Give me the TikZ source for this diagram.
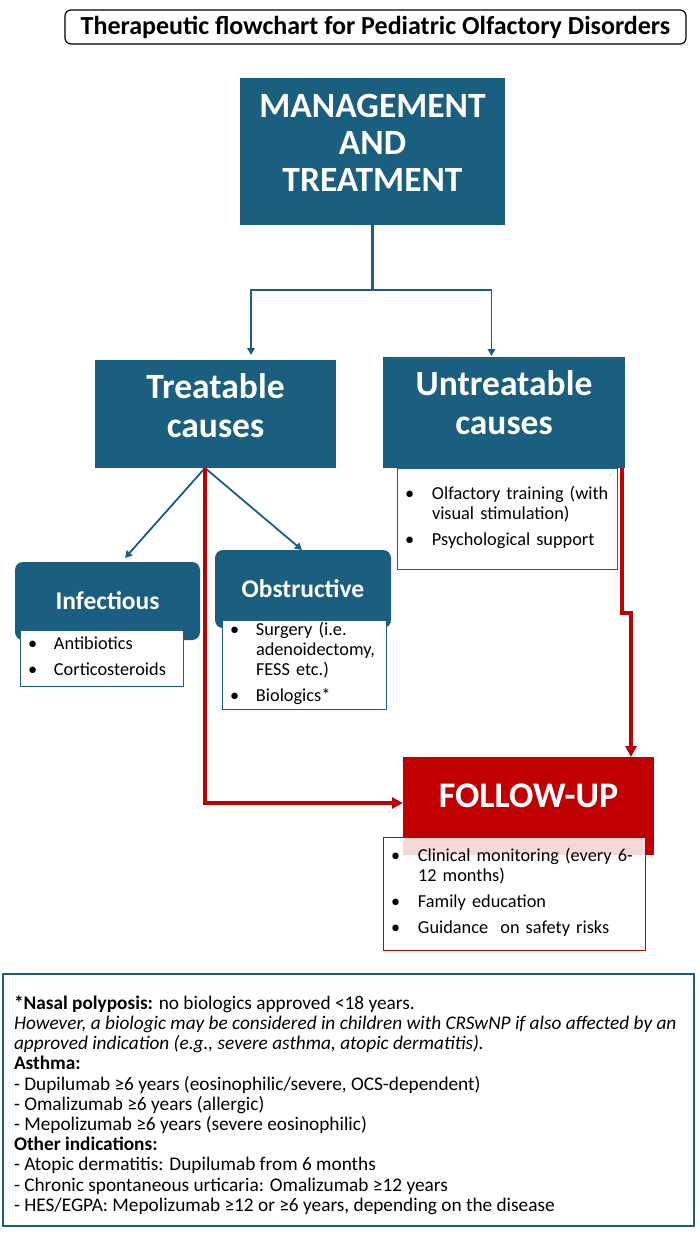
\documentclass[tikz,border=0pt]{standalone}
\usepackage{fontspec}
\setmainfont{Carlito}
\usetikzlibrary{arrows.meta,positioning,calc}
\definecolor{deepblue}{RGB}{26,94,128}
\definecolor{deepred}{RGB}{192,0,0}
\newcommand{\fsz}[2]{\fontsize{#1}{#2}\selectfont}
% move a block up or down without changing its box
\newcommand{\shifted}[2]{\raisebox{#1}[\height][\depth]{#2}}
\newcommand{\lifted}[2]{\shifted{#1}{\begin{tabular}{@{}c@{}}#2\end{tabular}}}

\begin{document}
\begin{tikzpicture}[x=1pt,y=-1pt,
  every node/.style={inner sep=0pt,outer sep=0pt},
  titlebox/.style={draw=black,line width=1.2pt,rounded corners=6pt,fill=white,
    minimum width=621pt,minimum height=34pt,font=\fsz{26}{30}\bfseries},
  headbox/.style={fill=deepblue,text=white,font=\fsz{35.5}{37}\bfseries},
  causebox/.style={fill=deepblue,text=white,font=\fsz{35.5}{39}\bfseries},
  subbox/.style={fill=deepblue,text=white,rounded corners=8pt,font=\fsz{25.5}{28}\bfseries},
  listbox/.style={draw=deepblue,line width=0.9pt,fill=white,inner xsep=8pt,
    align=left,anchor=north west,font=\fsz{18.3}{20}},
  fupbox/.style={fill=deepred,text=white,font=\fsz{36}{40}\bfseries},
  fuplist/.style={listbox,draw=deepred,fill opacity=0.85,text opacity=1},
  notebox/.style={draw=deepblue,line width=1.1pt,fill=white,anchor=north west,
    font=\fsz{19.3}{20.2}},
  bline/.style={deepblue,line width=1.8pt},
  barrow/.style={-{Triangle[length=7pt,width=7.5pt]},bline},
  rarrow/.style={-{Triangle[length=11pt,width=11pt]},deepred,line width=3.2pt},
]
\useasboundingbox (0,0) rectangle (700,1235);
% ---- title and top box ----
\node[titlebox] (title) at (375.5,27) {Therapeutic flowchart for Pediatric Olfactory Disorders};
\node[headbox,minimum width=265pt,minimum height=147pt] (mgmt) at (372.5,151.5)
  {\lifted{4pt}{MANAGEMENT\\AND\\TREATMENT}};
% ---- causes ----
\node[causebox,minimum width=241pt,minimum height=108pt] (treat) at (215.5,414)
  {\lifted{4pt}{Treatable\\causes}};
\node[causebox,minimum width=242pt,minimum height=111pt] (untreat) at (504,412.5)
  {\lifted{5pt}{Untreatable\\causes}};
\node[listbox,minimum width=220pt,minimum height=101pt,text width=204pt] (ulist) at (397,468)
  {\begin{tabular}{@{}p{27pt}@{}p{177pt}@{}}
   \textbullet & Olfactory training (with\newline visual stimulation)\\[6pt]
   \textbullet & Psychological support
   \end{tabular}};
% ---- treatable sub-causes ----
\node[subbox,minimum width=185pt,minimum height=78pt] (infect) at (107.5,601) {Infectious};
\node[subbox,minimum width=176pt,minimum height=78pt] (obstr) at (303,589) {Obstructive};
\node[listbox,minimum width=163pt,minimum height=56pt,text width=147pt] (ilist) at (20,630)
  {\begin{tabular}{@{}p{26pt}@{}p{121pt}@{}}
   \textbullet & Antibiotics\\[6pt]
   \textbullet & Corticosteroids
   \end{tabular}};
\node[listbox,minimum width=164pt,minimum height=89pt,text width=148pt] (olist) at (222,620)
  {\begin{tabular}{@{}p{26pt}@{}p{122pt}@{}}
   \textbullet & Surgery (i.e.\newline adenoidectomy,\newline FESS etc.)\\[6pt]
   \textbullet & Biologics*
   \end{tabular}};
% ---- follow-up ----
\node[fupbox,minimum width=251pt,minimum height=98pt] (fup) at (528.5,806)
  {\lifted{7pt}{FOLLOW-UP}};
\node[fuplist,minimum width=262pt,minimum height=113pt,text width=246pt] (flist) at (383,837)
  {\begin{tabular}{@{}p{27pt}@{}p{219pt}@{}}
   \textbullet & Clinical monitoring (every 6-\newline 12 months)\\[6pt]
   \textbullet & Family education\\[6pt]
   \textbullet & Guidance\ \ on safety risks
   \end{tabular}};
% ---- connectors ----
\coordinate (fork) at (372.5,290);
\coordinate (split) at (205,468);
\draw[bline,line width=2.6pt] (mgmt.south) -- (fork);
\draw[barrow] (fork) -| ($(treat.north)+(35.5,-5)$);
\draw[barrow] (fork) -| ($(untreat.north)+(-12.5,-1)$);
\draw[barrow] (split) -- ($(infect.north)+(17.5,-4)$);
\draw[barrow] (split) -- ($(obstr.north)+(-1,0)$);
\draw[rarrow] (split) |- ($(fup.west)+(0,-3)$);
\draw[rarrow] ($(untreat.south east)+(-3,0)$) -- ++(0,145) -- ++(9,0)
  -- ($(fup.north east)+(-23,0)$);
% ---- footnote ----
\node[notebox,minimum width=691pt,minimum height=252pt] (note) at (3,974)
  {\shifted{-5pt}{\begin{minipage}{669pt}
   \textbf{*Nasal polyposis:} no biologics approved <18 years.\\
   \textit{However, a biologic may be considered in children with CRSwNP if also affected by an}\\
   \textit{approved indication (e.g., severe asthma, atopic dermatitis).}\\
   \textbf{Asthma:}\\
   - Dupilumab ≥6 years (eosinophilic/severe, OCS-dependent)\\
   - Omalizumab ≥6 years (allergic)\\
   - Mepolizumab ≥6 years (severe eosinophilic)\\
   \textbf{Other indications:}\\
   - Atopic dermatitis: Dupilumab from 6 months\\
   - Chronic spontaneous urticaria: Omalizumab ≥12 years\\
   - HES/EGPA: Mepolizumab ≥12 or ≥6 years, depending on the disease
   \end{minipage}}};
\end{tikzpicture}
\end{document}
